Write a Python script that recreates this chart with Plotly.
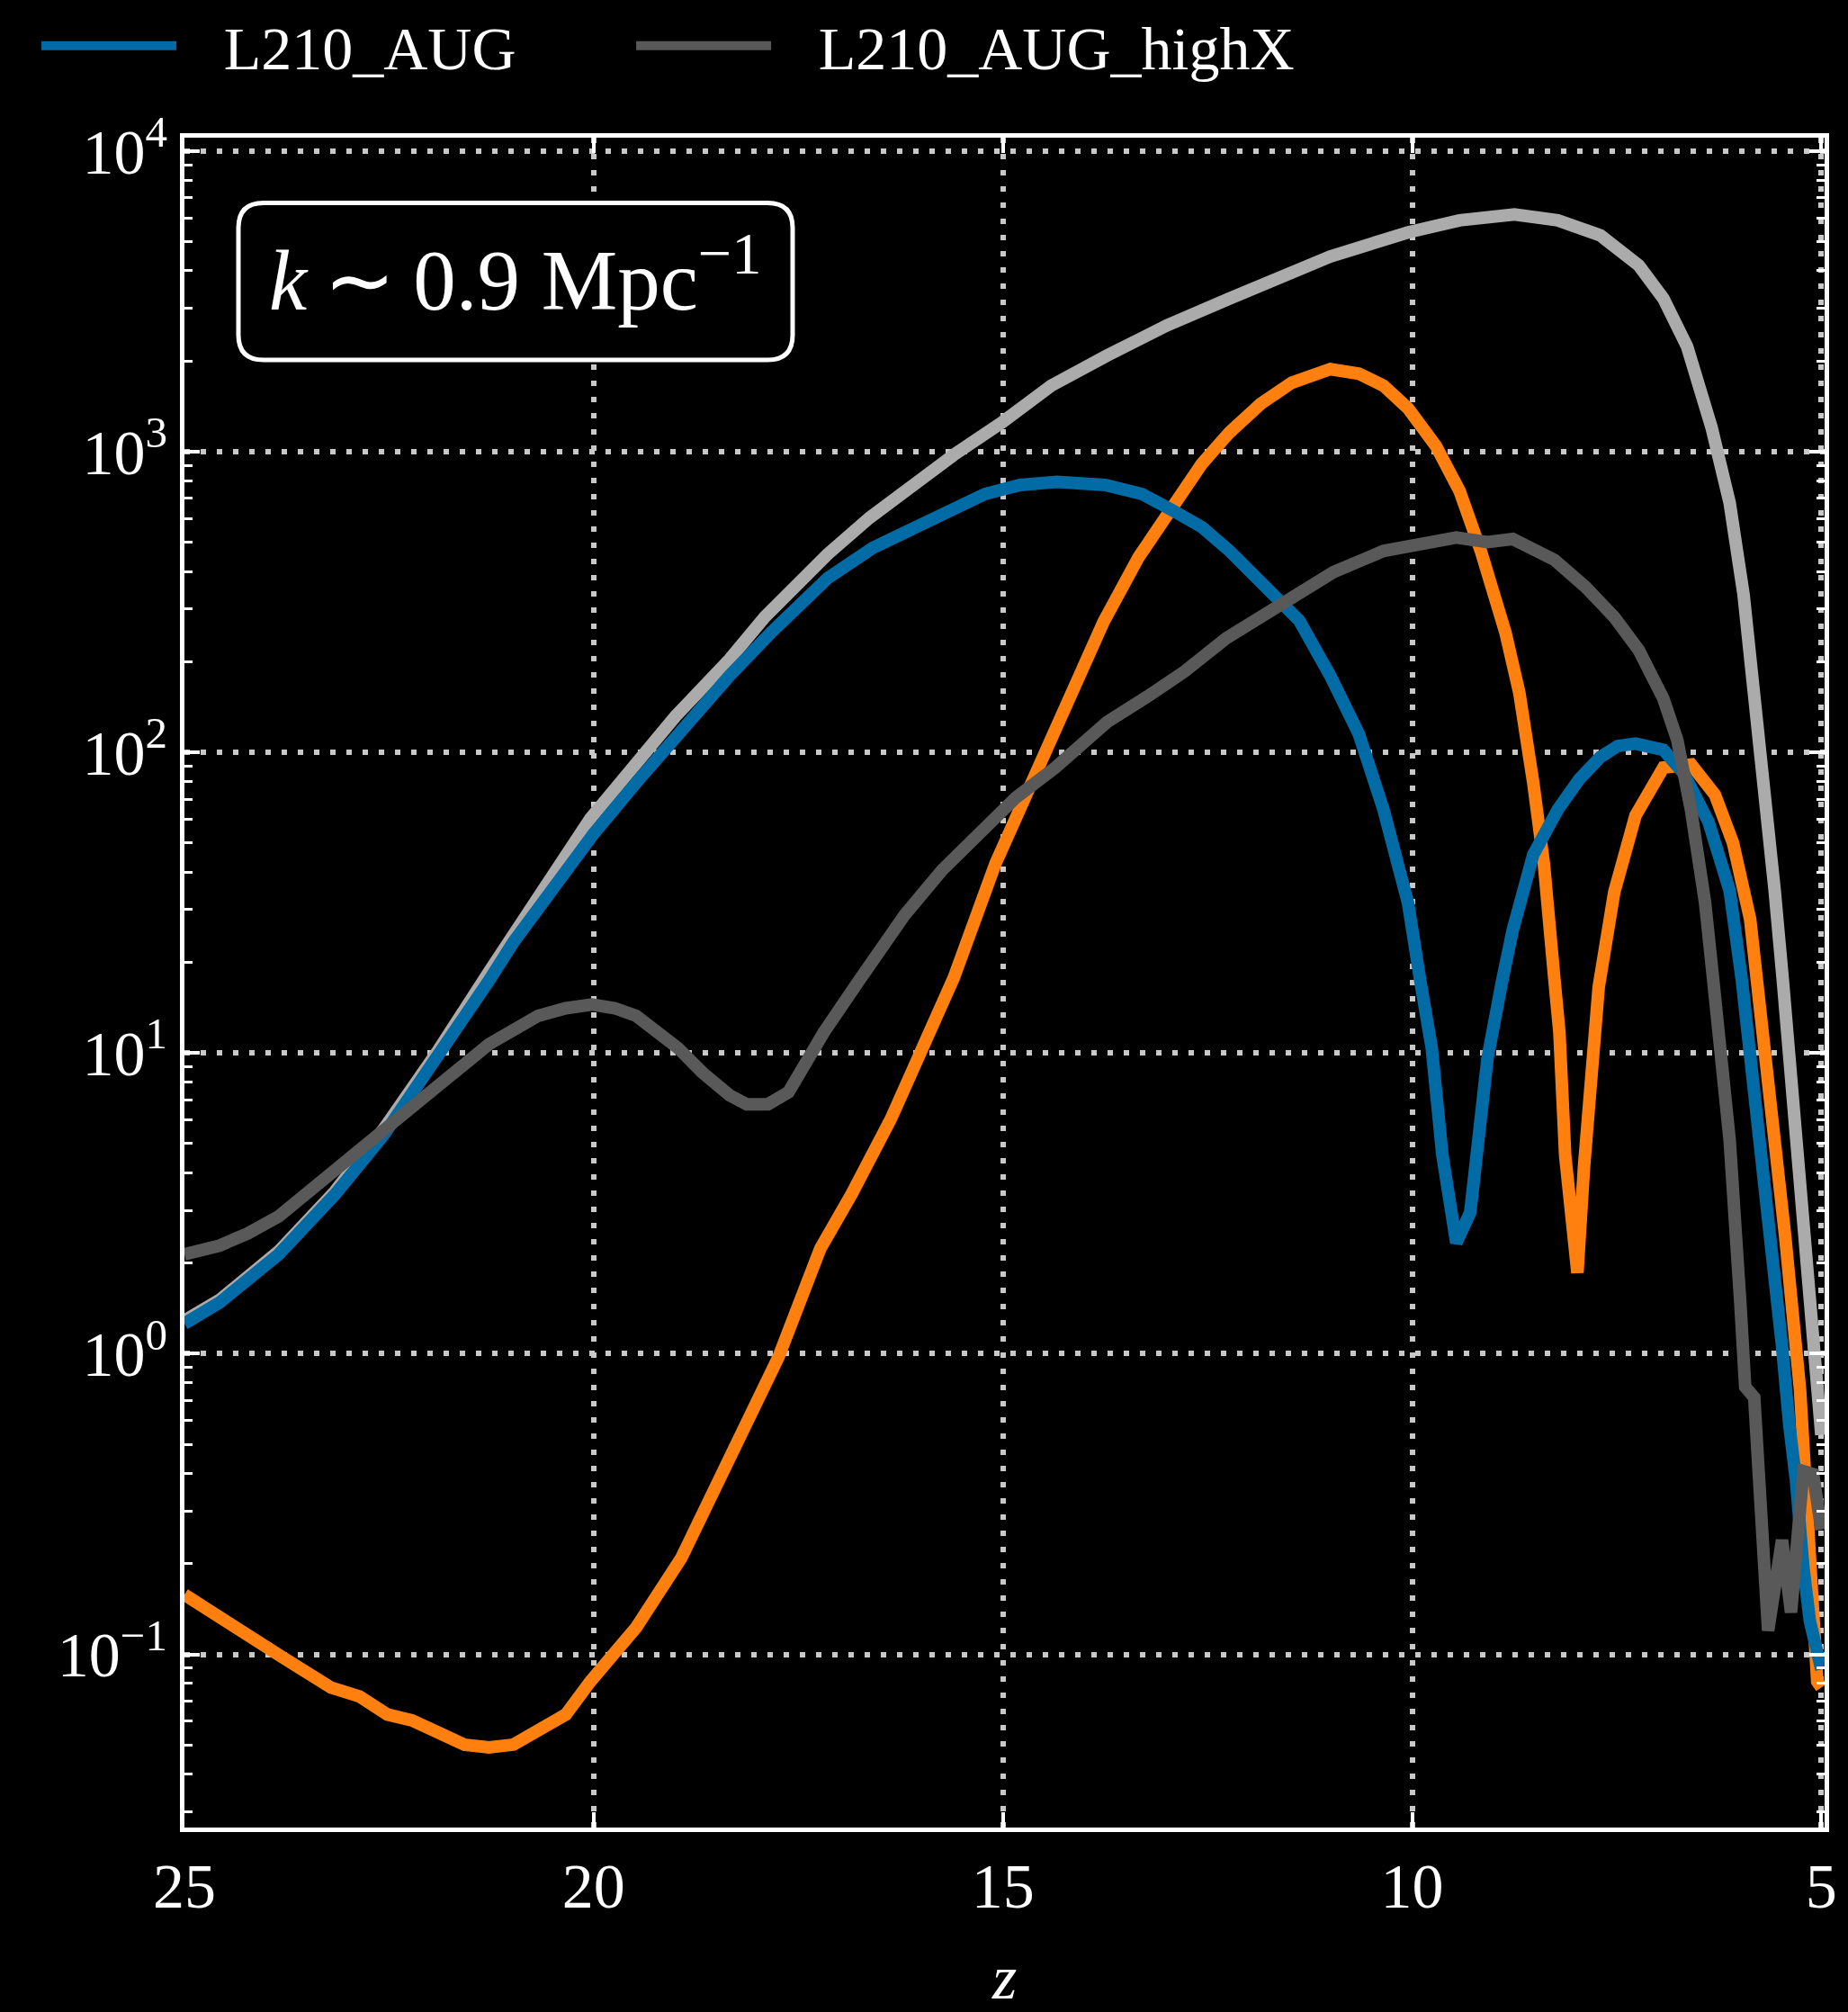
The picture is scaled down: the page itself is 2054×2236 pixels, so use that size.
import plotly.graph_objects as go

# ---------------- data ----------------
z_aug = [25.0, 24.57, 23.85, 23.16, 22.56, 21.92, 21.28, 20.98, 20.59, 20.0, 19.48, 18.89,
         18.34, 17.83, 17.14, 16.59, 16.12, 15.69, 15.22, 14.79, 14.34, 13.75, 13.30, 12.96,
         12.57, 12.23, 11.85, 11.64, 11.38, 11.0, 10.65, 10.35, 10.05, 9.90, 9.76, 9.63,
         9.46, 9.29, 9.18, 9.08, 8.90, 8.77, 8.52, 8.22, 7.96, 7.70, 7.49, 7.27, 6.93,
         6.68, 6.38, 6.12, 5.97, 5.78, 5.61, 5.48, 5.39, 5.31, 5.22, 5.14, 5.0]
p_aug = [1.26, 1.48, 2.14, 3.39, 5.37, 9.55, 17.4, 23.4, 33.1, 53.7, 79.4, 123,
         180, 251, 380, 479, 550, 631, 724, 776, 794, 776, 724, 646,
         562, 468, 372, 324, 275, 180, 115, 64.6, 31.6, 17.4, 10.4, 4.57,
         2.34, 2.95, 5.56, 9.55, 17.4, 25.7, 45.7, 64.6, 81.3, 96.6, 105, 107, 102,
         85.1, 58.9, 34.7, 17.4, 6.31, 2.43, 1.06, 0.575, 0.380, 0.195, 0.129, 0.089]

z_aug_b = [25.0, 24.57, 24.14, 23.80, 23.21, 22.86, 22.52, 22.22, 21.58, 21.28, 20.98, 20.34,
           20.04, 19.48, 18.93, 18.34, 17.74, 17.23, 16.85, 16.37, 15.95, 15.60, 15.09, 14.66,
           14.36, 13.77, 13.34, 12.96, 12.57, 12.23, 11.85, 11.47, 11.0, 10.65, 10.35, 10.05,
           9.71, 9.42, 9.16, 8.86, 8.69, 8.52, 8.39, 8.26, 8.20, 8.13, 7.98, 7.90, 7.81,
           7.72, 7.53, 7.27, 6.93, 6.59, 6.30, 6.08, 5.87, 5.78, 5.61, 5.44, 5.26, 5.18,
           5.05, 5.0]
p_aug_b = [0.158, 0.132, 0.112, 0.0977, 0.0776, 0.0724, 0.0631, 0.0603, 0.0501, 0.0490, 0.0501, 0.0631,
           0.0813, 0.123, 0.209, 0.447, 0.977, 2.24, 3.39, 6.03, 11.2, 17.8, 42.7, 79.4,
           123, 272, 447, 624, 912, 1161, 1445, 1698, 1884, 1820, 1660, 1396,
           1047, 741, 468, 251, 158, 79.4, 42.7, 17.4, 11.7, 4.57, 1.86, 4.17, 9.55,
           16.6, 34.3, 61.7, 89.1, 91.2, 72.4, 50.1, 27.9, 17.4, 6.31, 2.43, 0.759, 0.347,
           0.0813, 0.0776]

z_highx = [25.0, 24.57, 24.23, 23.85, 23.21, 22.56, 21.92, 21.28, 20.68, 20.34, 20.02, 19.74,
           19.48, 18.97, 18.67, 18.34, 18.13, 17.87, 17.62, 17.19, 16.76, 16.20, 15.74, 15.26,
           14.84, 14.36, 13.73, 13.21, 12.78, 12.27, 11.85, 11.64, 11.34, 10.96, 10.35, 10.01,
           9.46, 9.08, 8.77, 8.26, 7.88, 7.53, 7.23, 6.93, 6.76, 6.59, 6.42, 6.32, 6.12,
           5.99, 5.93, 5.82, 5.65, 5.48, 5.37, 5.22, 5.10, 5.0]
p_highx = [2.14, 2.29, 2.51, 2.86, 3.98, 5.56, 7.76, 10.7, 13.3, 14.1, 14.5, 14.1,
           13.3, 10.4, 8.61, 7.24, 6.76, 6.76, 7.41, 11.7, 17.4, 28.8, 40.7, 55.0,
           70.8, 89.1, 126, 155, 186, 240, 282, 299, 335, 398, 468, 490,
           519, 501, 513, 437, 355, 282, 219, 151, 110, 63.8, 31.6, 17.4, 5.13,
           1.48, 0.776, 0.716, 0.120, 0.240, 0.138, 0.407, 0.398, 0.260]

z_highx_b = [25.0, 24.57, 23.85, 23.16, 22.56, 21.92, 21.28, 20.6, 20.04, 19.0, 18.34, 17.91,
             17.14, 16.63, 16.12, 15.60, 15.0, 14.41, 13.73, 13.0, 12.23, 11.64, 11.0, 10.05,
             9.42, 8.75, 8.22, 7.70, 7.23, 6.93, 6.64, 6.34, 6.12, 5.95, 5.78, 5.57, 5.47,
             5.31, 5.18, 5.0]
p_highx_b = [1.29, 1.51, 2.19, 3.47, 5.62, 10.0, 18.6, 35.5, 60.3, 132, 204, 282,
             457, 603, 767, 977, 1259, 1660, 2089, 2630, 3236, 3758, 4467, 5370,
             5888, 6166, 5888, 5248, 4169, 3236, 2239, 1202, 676, 335, 129, 34.7, 17.4,
             5.13, 1.82, 0.537]

y_tick_vals = [0.1, 1, 10, 100, 1000, 10000]
y_tick_text = ["10<sup>\u22121</sup>", "10<sup>0</sup>", "10<sup>1</sup>",
               "10<sup>2</sup>", "10<sup>3</sup>", "10<sup>4</sup>"]
x_tick_vals = [25, 20, 15, 10, 5]
x_tick_text = ["25", "20", "15", "10", "5"]
annotation_text = "<i>k</i>\u2009\u223c\u20090.9 Mpc<sup>\u22121</sup>"
legend_names = ["L210_AUG", "L210_AUG_highX"]

# ---------------- styling ----------------
BLUE = "#006BA4"
ORANGE = "#FF800E"
LIGHT = "#ABABAB"
DARK = "#595959"
FONT = "Times New Roman, Liberation Serif, Times, serif"
LW = 14
GAP = "\u2002\u2009"   # spacing between legend line sample and its text

fig = go.Figure()
fig.add_trace(go.Scatter(x=z_highx_b, y=p_highx_b, mode="lines", showlegend=False,
                         line=dict(color=LIGHT, width=LW)))
fig.add_trace(go.Scatter(x=z_aug_b, y=p_aug_b, mode="lines", showlegend=False,
                         line=dict(color=ORANGE, width=LW)))
fig.add_trace(go.Scatter(x=z_aug, y=p_aug, mode="lines", name=GAP + legend_names[0],
                         line=dict(color=BLUE, width=LW), legend="legend"))
fig.add_trace(go.Scatter(x=z_highx, y=p_highx, mode="lines", name=GAP + legend_names[1],
                         line=dict(color=DARK, width=LW), legend="legend2"))

minor_vals = [m * 10 ** e for e in range(-2, 4) for m in range(2, 10)]

W, H = 2054, 2236
L_, R_, T_, B_ = 205, 26, 153, 190
pw, ph = W - L_ - R_, H - T_ - B_

grid = dict(showgrid=True, gridcolor="#c8c8c8", gridwidth=6, griddash="6px,12px")
axis_common = dict(showline=True, linecolor="white", linewidth=5, mirror="allticks",
                   ticks="inside", ticklen=17, tickwidth=4, tickcolor="white",
                   zeroline=False, tickfont=dict(family=FONT, size=70, color="white"))

fig.update_xaxes(range=[25, 4.96], tickmode="array", tickvals=x_tick_vals, ticktext=x_tick_text,
                 title=dict(text="<i>z</i>", font=dict(family=FONT, size=70, color="white"), standoff=40),
                 **grid, **axis_common)
fig.update_yaxes(type="log", range=[-1.576, 4.045], tickmode="array", tickvals=y_tick_vals,
                 ticktext=y_tick_text,
                 minor=dict(tickmode="array", tickvals=minor_vals, ticks="inside", ticklen=9,
                            tickwidth=3, tickcolor="white", showgrid=False),
                 **grid, **axis_common)

# rounded annotation box (paper coordinates)
def px(X):
    return (X - L_) / pw

def py(Y):
    return (H - B_ - Y) / ph

bx0, bx1, by0, by1, r = 265, 881, 226, 402, 28
path = (f"M{px(bx0 + r)},{py(by0)} L{px(bx1 - r)},{py(by0)} Q{px(bx1)},{py(by0)} {px(bx1)},{py(by0 + r)} "
        f"L{px(bx1)},{py(by1 - r)} Q{px(bx1)},{py(by1)} {px(bx1 - r)},{py(by1)} "
        f"L{px(bx0 + r)},{py(by1)} Q{px(bx0)},{py(by1)} {px(bx0)},{py(by1 - r)} "
        f"L{px(bx0)},{py(by0 + r)} Q{px(bx0)},{py(by0)} {px(bx0 + r)},{py(by0)} Z")
fig.add_shape(type="path", xref="paper", yref="paper", path=path,
              line=dict(color="white", width=5), fillcolor="black", layer="above")
fig.add_annotation(xref="paper", yref="paper", x=px((bx0 + bx1) / 2), y=py(306),
                   text=annotation_text, showarrow=False, xanchor="center", yanchor="middle",
                   font=dict(family=FONT, size=95, color="white"))

leg_common = dict(orientation="h", xref="container", yref="container", y=1.0,
                  xanchor="left", yanchor="top", itemwidth=150, bgcolor="rgba(0,0,0,0)",
                  font=dict(family=FONT, size=68, color="white"))

fig.update_layout(
    width=W, height=H,
    margin=dict(l=L_, r=R_, t=T_, b=B_),
    paper_bgcolor="black", plot_bgcolor="black",
    font=dict(family=FONT, color="white", size=68),
    legend=dict(x=0.02, **leg_common),
    legend2=dict(x=0.02 + (711 - 50) / W, **leg_common),
)

fig.write_html("out.html", config={"displayModeBar": False})
